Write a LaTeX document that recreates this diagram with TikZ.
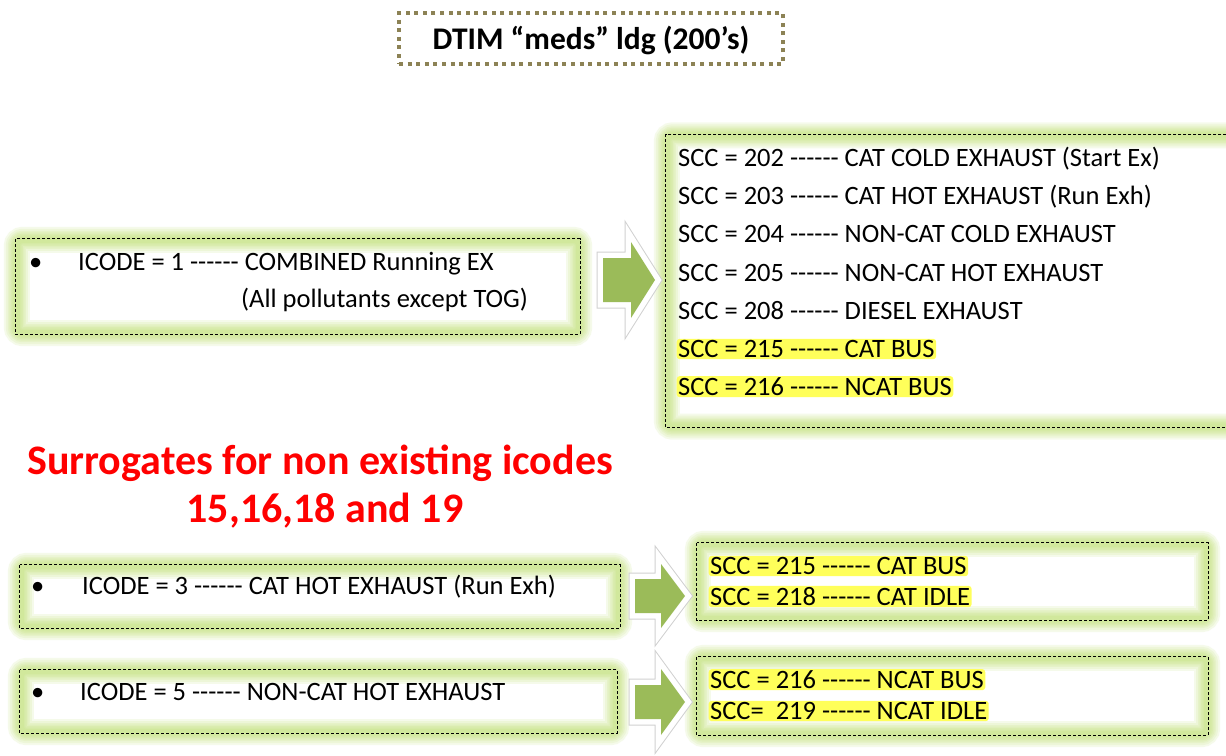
\documentclass[tikz,border=0pt]{standalone}
\usepackage{fontspec}
\setmainfont{Carlito}[Ligatures=TeXOff]
\definecolor{glowc}{RGB}{185,222,100}
\definecolor{arrowg}{RGB}{155,187,89}
\definecolor{olivedot}{RGB}{140,130,85}
\definecolor{hiyel}{RGB}{255,255,90}
\definecolor{redtxt}{RGB}{255,0,0}
\tikzset{
  boxshape/.style={rectangle, inner sep=0pt, fill=white},
  glowline/.style={draw=glowc, opacity=0.13, rounded corners=6pt},
  dashline/.style={draw=black, line width=0.8pt, dash pattern=on 3pt off 2pt},
  titlebox/.style={rectangle, inner sep=0pt, draw=olivedot, line width=4pt,
    dash pattern=on 4pt off 4.6pt},
  titletxt/.style={anchor=base, inner sep=0pt, font=\fontsize{31.5}{36}\selectfont\bfseries},
  txt/.style={anchor=base west, inner sep=0pt, font=\fontsize{26.5}{30}\selectfont},
  hitxt/.style={txt, fill=hiyel, inner sep=1.5pt, rounded corners=3pt},
  redhead/.style={anchor=base, text=redtxt, inner sep=0pt,
    font=\fontsize{42}{48}\selectfont\bfseries},
  arrshadow/.style={draw=black!18, line width=13pt, line join=miter, miter limit=12},
  arrborder/.style={draw=white, line width=11pt, line join=miter, miter limit=12},
  arrbody/.style={fill=arrowg}
}
\newcommand\glowrect[1]{% node name
  \foreach \w in {26,22,18,15,12,9,6}{\draw[glowline, line width=\w pt] ([shift={(1,1)}]#1.north west) rectangle ([shift={(-1,-1)}]#1.south east);}
  \draw[dashline] (#1.north west) rectangle (#1.south east);
}
\newcommand\blockarr[6]{% x0 x1 x2 yc shafthalf headhalf
  \path[arrshadow] (#1,#4-#5) -- (#2,#4-#5) -- (#2,#4-#6) -- (#3,#4) -- (#2,#4+#6) -- (#2,#4+#5) -- (#1,#4+#5) -- cycle;
  \path[arrborder] (#1,#4-#5) -- (#2,#4-#5) -- (#2,#4-#6) -- (#3,#4) -- (#2,#4+#6) -- (#2,#4+#5) -- (#1,#4+#5) -- cycle;
  \path[arrbody] (#1,#4-#5) -- (#2,#4-#5) -- (#2,#4-#6) -- (#3,#4) -- (#2,#4+#6) -- (#2,#4+#5) -- (#1,#4+#5) -- cycle;
}
\begin{document}
\begin{tikzpicture}[x=1pt,y=-1pt]
\useasboundingbox (0,0) rectangle (1226,755);
\fill[white] (0,0) rectangle (1226,755);

% title
\node[titlebox, minimum width=384pt, minimum height=51pt] (title) at (591,38.5) {};
\node[titletxt] (titletext) at (591,49) {DTIM “meds” ldg (200’s)};

% boxes
\node[boxshape, minimum width=564pt, minimum height=95pt] (b1) at (298,286.5) {};
\node[boxshape, minimum width=574pt, minimum height=293pt] (b2) at (953,281) {};
\node[boxshape, minimum width=600pt, minimum height=63pt] (b3) at (320,596.5) {};
\node[boxshape, minimum width=597pt, minimum height=63pt] (b4) at (318.5,701.5) {};
\node[boxshape, minimum width=511pt, minimum height=77pt] (b5) at (952.5,581.5) {};
\node[boxshape, minimum width=511pt, minimum height=78pt] (b6) at (952.5,696) {};
\glowrect{b1}\glowrect{b2}\glowrect{b3}\glowrect{b4}\glowrect{b5}\glowrect{b6}

% arrows
\blockarr{603}{631}{655}{280}{22}{38}
\blockarr{635}{661}{685}{596}{17}{32}
\blockarr{635}{661}{685}{702}{17}{33}

% box 1 text
\node[txt] (b1bul) at (29,270.5) {•};
\node[txt] (b1l1) at (78,270.5) {ICODE = 1 ------ COMBINED Running EX};
\node[txt] (b1l2) at (241,307.5) {(All pollutants except TOG)};

% box 2 text
\node[txt] (b2l1) at (678,166.5) {SCC = 202 ------ CAT COLD EXHAUST (Start Ex)};
\node[txt] (b2l2) at (678,204.5) {SCC = 203 ------ CAT HOT EXHAUST (Run Exh)};
\node[txt] (b2l3) at (678,242.5) {SCC = 204 ------ NON-CAT COLD EXHAUST};
\node[txt] (b2l4) at (678,281.5) {SCC = 205 ------ NON-CAT HOT EXHAUST};
\node[txt] (b2l5) at (678,319.5) {SCC = 208 ------ DIESEL EXHAUST};
\node[hitxt] (b2l6) at (676.5,357.5) {SCC = 215 ------ CAT BUS};
\node[hitxt] (b2l7) at (676.5,395.5) {SCC = 216 ------ NCAT BUS};

% red heading
\node[redhead] (red1) at (320,474.5) {Surrogates for non existing icodes};
\node[redhead] (red2) at (325,522.5) {15,16,18 and 19};

% box 3/4 text
\node[txt] (b3bul) at (31,594.5) {•};
\node[txt] (b3l1) at (82,594.5) {ICODE = 3 ------ CAT HOT EXHAUST (Run Exh)};
\node[txt] (b4bul) at (31,700.5) {•};
\node[txt] (b4l1) at (80,700.5) {ICODE = 5 ------ NON-CAT HOT EXHAUST};

% box 5/6 text
\node[hitxt] (b5l1) at (708.5,574.5) {SCC = 215 ------ CAT BUS};
\node[hitxt] (b5l2) at (708.5,605.5) {SCC = 218 ------ CAT IDLE};
\node[hitxt] (b6l1) at (708.5,688.5) {SCC = 216 ------ NCAT BUS};
\node[hitxt] (b6l2) at (708.5,719.5) {SCC=\ \ 219 ------ NCAT IDLE};
\end{tikzpicture}
\end{document}
